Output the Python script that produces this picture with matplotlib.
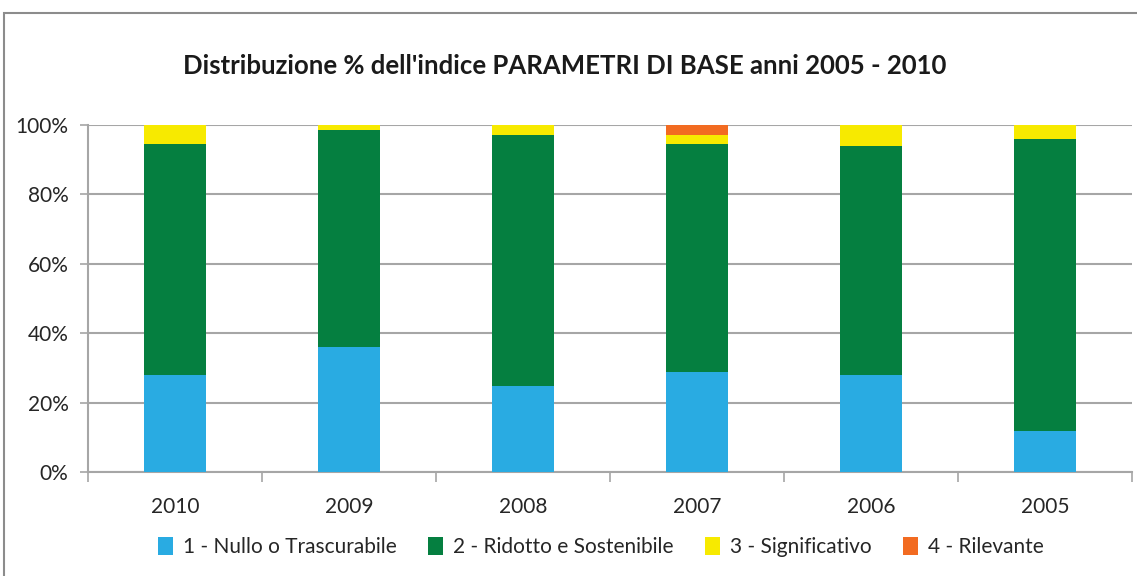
import matplotlib
matplotlib.use("Agg")
import matplotlib.pyplot as plt
import numpy as np
from matplotlib.patches import Rectangle
from matplotlib.ticker import PercentFormatter, FixedLocator

anni = ["2010", "2009", "2008", "2007", "2006", "2005"]
nullo = [28.0, 36.1, 24.9, 28.9, 28.0, 11.7]
ridotto = [66.6, 62.5, 72.3, 65.7, 66.0, 84.3]
significativo = [5.4, 1.4, 2.8, 2.6, 6.0, 4.0]
rilevante = [0.0, 0.0, 0.0, 2.8, 0.0, 0.0]

serie = [
    ("1 - Nullo o Trascurabile", nullo, "#29ABE2"),
    ("2 - Ridotto e Sostenibile", ridotto, "#057F40"),
    ("3 - Significativo", significativo, "#F7EA00"),
    ("4 - Rilevante", rilevante, "#F26B21"),
]

plt.rcParams["font.family"] = ["Lato", "DejaVu Sans"]

fig = plt.figure(figsize=(11.37, 5.76), dpi=100)
ax = fig.add_axes([88 / 1137, 104 / 576, 1044 / 1137, 347 / 576])

# cornice grigia del grafico
fig.patches.append(Rectangle((4 / 1137, -0.1), 1.2, (576 - 13) / 576 + 0.1,
                             transform=fig.transFigure, fill=False,
                             edgecolor="#8C8C8C", linewidth=1.5))

x = np.arange(len(anni))
base = np.zeros(len(anni))
for nome, valori, colore in serie:
    ax.bar(x, valori, width=0.356, bottom=base, color=colore, label=nome, zorder=3)
    base = base + np.array(valori)

ax.set_xlim(-0.5, len(anni) - 0.5)
ax.set_ylim(0, 100)
ax.set_yticks(np.arange(0, 101, 20))
ax.yaxis.set_major_formatter(PercentFormatter(decimals=0))
ax.set_xticks(x)
ax.set_xticklabels(anni)
ax.xaxis.set_minor_locator(FixedLocator(np.arange(-0.5, len(anni), 1)))

ax.grid(axis="y", color="#A6A6A6", linewidth=1.5, zorder=0)
for lato in ["top", "right"]:
    ax.spines[lato].set_visible(False)
for lato in ["left", "bottom"]:
    ax.spines[lato].set_color("#A6A6A6")
    ax.spines[lato].set_linewidth(1.5)

ax.tick_params(axis="y", length=6, width=1.2, color="#A6A6A6", labelsize=15,
               labelcolor="#262626", pad=8)
ax.tick_params(axis="x", which="major", length=0, labelsize=15,
               labelcolor="#262626", pad=18)
ax.tick_params(axis="x", which="minor", length=7, width=1.2, color="#A6A6A6")

fig.text(565 / 1137, 1 - 66 / 576, "Distribuzione % dell'indice PARAMETRI DI BASE anni 2005 - 2010",
         ha="center", va="center", fontsize=18.5, fontweight="bold", color="#1A1A1A")

leg = ax.legend(loc="center", bbox_to_anchor=(601 / 1137, 1 - 547 / 576),
                bbox_transform=fig.transFigure, ncol=4, frameon=False,
                fontsize=15, handlelength=0.7, handleheight=1.0,
                handletextpad=0.5, columnspacing=1.5)
for t in leg.get_texts():
    t.set_color("#262626")

fig.savefig("out.png", dpi=100, facecolor="white")
